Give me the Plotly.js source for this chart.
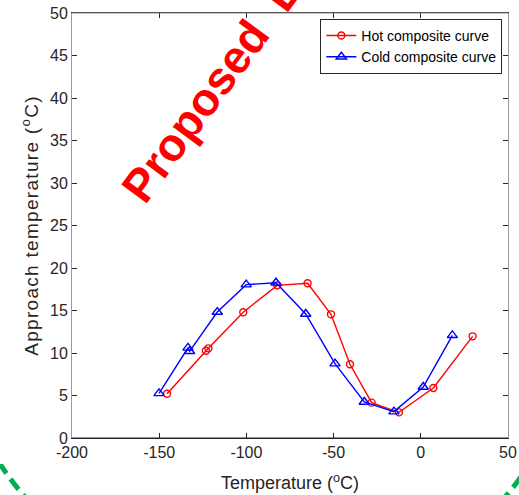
<!DOCTYPE html>
<html>
<head>
<meta charset="utf-8">
<script src="https://cdn.plot.ly/plotly-3.0.1.min.js"></script>
<style>
html,body{margin:0;padding:0;background:#fff;}
#wrap{position:relative;width:519px;height:495px;overflow:hidden;}
#chart{position:absolute;left:0;top:0;width:519px;height:495px;}
#stamp{position:absolute;left:0;top:0;pointer-events:none;}
.ytitle{letter-spacing:1.3px;}
</style>
</head>
<body>
<div id="wrap">
<div id="chart"></div>
<svg id="stamp" width="519" height="495">
  <defs><clipPath id="cp"><rect x="0" y="464" width="519" height="40"/></clipPath></defs>
  <circle cx="265" cy="290" r="317" fill="none" stroke="#00b050" stroke-width="5" stroke-dasharray="13 7" clip-path="url(#cp)"/>
</svg>
</div>
<script>
var hotX = [-145.5, -123.2, -121.8, -101.8, -82.3, -64.9, -51.5, -40.6, -28.2, -12.5, 7.2, 29.7];
var hotY = [5.2, 10.27, 10.55, 14.8, 17.96, 18.2, 14.55, 8.67, 4.16, 3.02, 5.88, 11.96];
var coldX = [-150.1, -133.5, -132.6, -116.7, -100.1, -83.0, -66.0, -49.2, -32.4, -15.4, 1.4, 18.1];
var coldY = [5.25, 10.6, 10.2, 14.82, 18.04, 18.27, 14.59, 8.75, 4.24, 3.1, 6.0, 12.08];
var xTicks = [-200, -150, -100, -50, 0, 50];
var yTicks = [0, 5, 10, 15, 20, 25, 30, 35, 40, 45, 50];

var font = 'Liberation Sans, Arial, sans-serif';
var traces = [
  {x: hotX, y: hotY, name: 'Hot composite curve', type: 'scatter', mode: 'lines+markers',
   line: {color: '#ff0000', width: 1.4},
   marker: {symbol: 'circle-open', size: 7, color: '#ff0000', line: {width: 1.4, color: '#ff0000'}}},
  {x: coldX, y: coldY, name: 'Cold composite curve', type: 'scatter', mode: 'lines+markers',
   line: {color: '#0000ff', width: 1.4},
   marker: {symbol: 'triangle-up-open', size: 9, color: '#0000ff', line: {width: 1.4, color: '#0000ff'}}}
];
var layout = {
  width: 519, height: 495,
  margin: {l: 72, r: 11, t: 13, b: 57},
  paper_bgcolor: 'rgba(0,0,0,0)', plot_bgcolor: '#ffffff',
  font: {family: font, color: '#262626'},
  showlegend: true,
  legend: {x: 0.987, y: 0.986, xanchor: 'right', yanchor: 'top', bgcolor: '#ffffff',
           bordercolor: '#262626', borderwidth: 1, font: {family: font, size: 14, color: '#000'},
           tracegroupgap: 0, itemwidth: 30},
  xaxis: {range: [-200, 50], tickvals: xTicks, ticktext: xTicks.map(String),
          showgrid: false, zeroline: false, showline: true, linecolor: '#262626', linewidth: 1,
          mirror: 'ticks', ticks: 'inside', ticklen: 5, tickcolor: '#262626',
          tickfont: {family: font, size: 16, color: '#262626'},
          title: {text: 'Temperature (<sup>o</sup>C)', font: {family: font, size: 18, color: '#262626'}, standoff: 16}},
  yaxis: {range: [0, 50], tickvals: yTicks, ticktext: yTicks.map(String),
          showgrid: false, zeroline: false, showline: true, linecolor: '#9a9a9a', linewidth: 1,
          mirror: 'ticks', ticks: 'inside', ticklen: 5, tickcolor: '#262626',
          tickfont: {family: font, size: 16, color: '#262626'},
          title: {text: 'Approach temperature (<sup>o</sup>C)', font: {family: font, size: 19, color: '#262626'}, standoff: 6}},
  shapes: [
    {type: 'line', xref: 'paper', yref: 'paper', x0: 0, x1: 1, y0: 1, y1: 1, line: {color: '#8a8a8a', width: 1}},
    {type: 'line', xref: 'paper', yref: 'paper', x0: 0, x1: 1, y0: 0, y1: 0, line: {color: '#262626', width: 1}}
  ],
  annotations: [
    {text: '<b>Proposed&nbsp;&nbsp;D</b>', xref: 'paper', yref: 'paper', x: 0.323, y: 0.826, xanchor: 'center', yanchor: 'middle',
     showarrow: false, textangle: -53.5, font: {family: font, size: 46, color: '#ff0000'}}
  ]
};
Plotly.newPlot('chart', traces, layout, {displayModeBar: false, staticPlot: true});
</script>
</body>
</html>
